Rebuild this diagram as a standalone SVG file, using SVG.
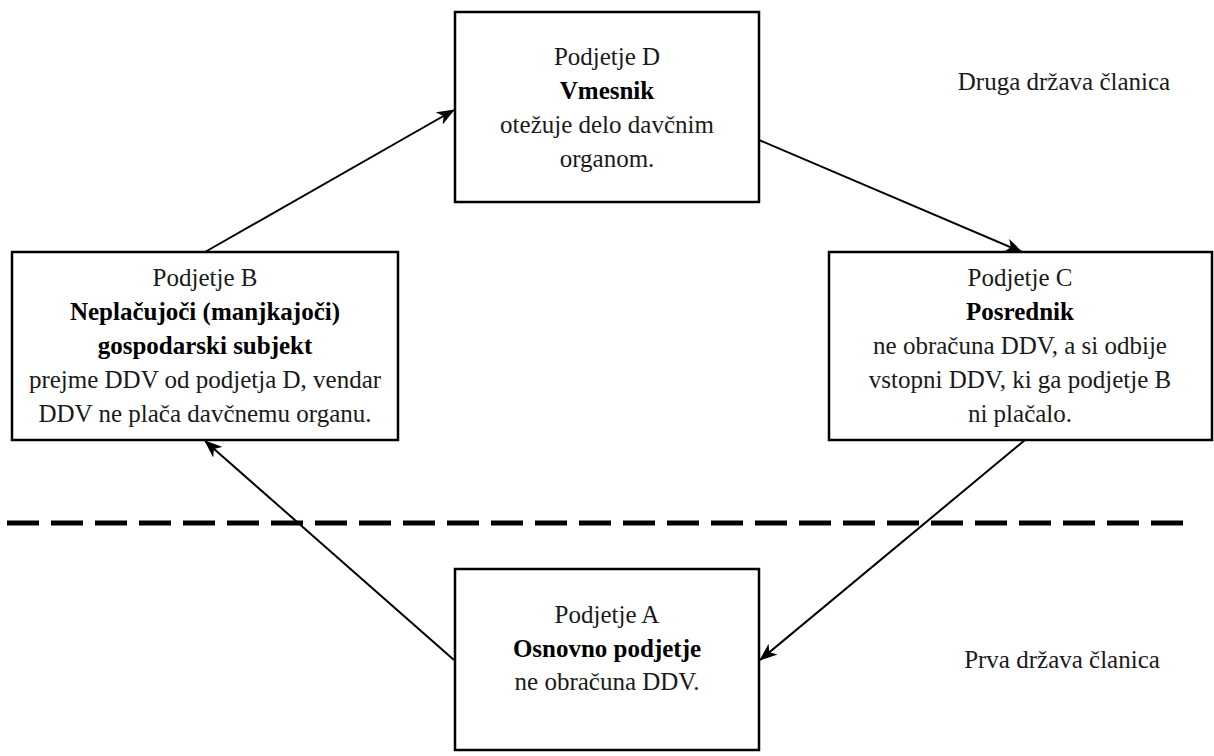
<svg xmlns="http://www.w3.org/2000/svg" width="1214" height="756" viewBox="0 0 1214 756">
  <style>
    .box { fill: #ffffff; stroke: #000000; stroke-width: 2.5; }
    .t { font-family: "Liberation Serif", "DejaVu Serif", serif; font-size: 25px; fill: #1a1a1a; text-anchor: middle; }
    .b { font-weight: bold; fill: #000000; }
    .conn { stroke: #000000; stroke-width: 2; fill: none; marker-end: url(#arrow); }
    .divider { stroke: #000000; stroke-width: 5; stroke-dasharray: 32 12; fill: none; }
  </style>
  <defs>
    <marker id="arrow" markerUnits="userSpaceOnUse" markerWidth="18" markerHeight="14" refX="17" refY="7" orient="auto">
      <path d="M0,0 L18,7 L0,14 L5,7 z" fill="#000000"/>
    </marker>
  </defs>
  <rect width="1214" height="756" fill="#ffffff"/>

  <line class="divider" x1="7" y1="523" x2="1185" y2="523"/>

  <g id="connectors">
    <line class="conn" x1="205" y1="252" x2="454" y2="110"/>
    <line class="conn" x1="759" y1="140" x2="1022" y2="252"/>
    <line class="conn" x1="1025" y1="440" x2="760" y2="660"/>
    <line class="conn" x1="454" y1="660" x2="205" y2="441"/>
  </g>

  <g id="nodeD">
    <rect class="box" x="455" y="12" width="304" height="190"/>
    <text class="t" x="607" y="65">Podjetje D</text>
    <text class="t b" x="607" y="99">Vmesnik</text>
    <text class="t" x="607" y="133">otežuje delo davčnim</text>
    <text class="t" x="607" y="167">organom.</text>
  </g>

  <g id="nodeB">
    <rect class="box" x="12" y="252" width="386" height="188"/>
    <text class="t" x="205" y="286">Podjetje B</text>
    <text class="t b" x="205" y="320">Neplačujoči (manjkajoči)</text>
    <text class="t b" x="205" y="354">gospodarski subjekt</text>
    <text class="t" x="205" y="388">prejme DDV od podjetja D, vendar</text>
    <text class="t" x="205" y="422">DDV ne plača davčnemu organu.</text>
  </g>

  <g id="nodeC">
    <rect class="box" x="829" y="252" width="383" height="188"/>
    <text class="t" x="1020" y="286">Podjetje C</text>
    <text class="t b" x="1020" y="320">Posrednik</text>
    <text class="t" x="1020" y="354">ne obračuna DDV, a si odbije</text>
    <text class="t" x="1020" y="388">vstopni DDV, ki ga podjetje B</text>
    <text class="t" x="1020" y="422">ni plačalo.</text>
  </g>

  <g id="nodeA">
    <rect class="box" x="455" y="569" width="304" height="181"/>
    <text class="t" x="607" y="623">Podjetje A</text>
    <text class="t b" x="607" y="657">Osnovno podjetje</text>
    <text class="t" x="607" y="690">ne obračuna DDV.</text>
  </g>

  <g id="labels">
    <text class="t" x="1064" y="90">Druga država članica</text>
    <text class="t" x="1062" y="668">Prva država članica</text>
  </g>
</svg>
